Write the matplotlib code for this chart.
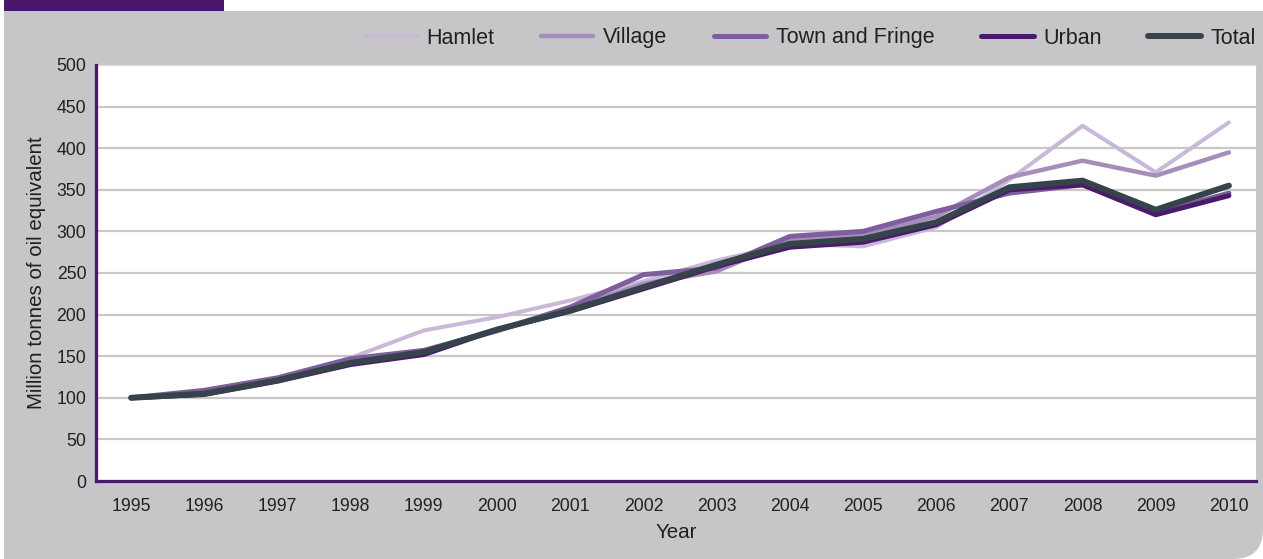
import matplotlib.pyplot as plt
from matplotlib.path import Path
from matplotlib.patches import PathPatch, Rectangle

years = ['1995', '1996', '1997', '1998', '1999', '2000', '2001', '2002',
         '2003', '2004', '2005', '2006', '2007', '2008', '2009', '2010']
hamlet = [100, 107, 123, 148, 181, 197, 217, 240, 265, 285, 282, 305, 362, 427, 371, 431]
village = [100, 108, 123, 146, 156, 180, 208, 237, 252, 290, 295, 318, 365, 385, 367, 395]
town = [100, 109, 124, 147, 157, 181, 209, 248, 256, 294, 300, 324, 346, 356, 322, 346]
urban = [100, 104, 120, 140, 152, 182, 204, 231, 258, 281, 287, 308, 350, 356, 320, 343]
total = [100, 105, 121, 142, 155, 182, 205, 233, 260, 285, 291, 311, 353, 361, 326, 355]

series = [
    ('Hamlet', hamlet, '#c9b9d8', 2.9),
    ('Village', village, '#a68eba', 3.2),
    ('Town and Fringe', town, '#7e5e9c', 3.6),
    ('Urban', urban, '#4a1a6b', 3.6),
    ('Total', total, '#36434b', 4.3),
]

plt.rcParams['font.family'] = ['Liberation Sans', 'DejaVu Sans']
W, H = 1263, 559
fig = plt.figure(figsize=(W / 100, H / 100), dpi=100)
fig.patch.set_facecolor('white')


def fx(px):
    return px / W


def fy(py):
    return 1 - py / H


# grey panel with a rounded bottom-right corner
r = 30
verts = [(fx(4), fy(11)), (fx(W), fy(11)), (fx(W), fy(H - r)),
         (fx(W), fy(H)), (fx(W - r), fy(H)), (fx(4), fy(H)), (fx(4), fy(11))]
codes = [Path.MOVETO, Path.LINETO, Path.LINETO, Path.CURVE3, Path.CURVE3,
         Path.LINETO, Path.CLOSEPOLY]
fig.patches.append(PathPatch(Path(verts, codes), transform=fig.transFigure,
                             facecolor='#c6c6c8', edgecolor='none', zorder=-2))
# purple tab
fig.patches.append(Rectangle((fx(4), fy(11)), fx(224) - fx(4), fy(0) - fy(11),
                             transform=fig.transFigure, facecolor='#4a186b',
                             edgecolor='none', zorder=-2))

ax = fig.add_axes([fx(96), fy(481), fx(1256) - fx(96), fy(65) - fy(481)])
ax.set_facecolor('white')

x = list(range(len(years)))
for name, vals, color, lw in series:
    ax.plot(x, vals, color=color, lw=lw, label=name,
            solid_capstyle='round', solid_joinstyle='round', zorder=3)

ax.set_xlim(-0.48, 15.37)
ax.set_ylim(0, 500)
ax.set_xticks(x)
ax.set_xticklabels(years)
ax.set_yticks(range(0, 501, 50))
ax.grid(axis='y', color='#c8c8c8', lw=1.6, zorder=1)
ax.tick_params(length=0, labelsize=12.7, colors='#231f20')
ax.tick_params(axis='x', pad=12)
ax.tick_params(axis='y', pad=7)

for side in ('left', 'bottom'):
    ax.spines[side].set_color('#4a186b')
    ax.spines[side].set_linewidth(2.3)
    ax.spines[side].set_zorder(4)
ax.spines['right'].set_visible(False)
ax.spines['top'].set_color('#e4dcee')
ax.spines['top'].set_linewidth(0.8)

ax.set_ylabel('Million tonnes of oil equivalent', fontsize=14.8, color='#231f20')
ax.yaxis.set_label_coords(-0.051, 0.5)
ax.yaxis.label.set_va('center')
ax.set_xlabel('Year', fontsize=14.8, color='#231f20')
ax.xaxis.set_label_coords(0.5, (481 - 532) / 416)
ax.xaxis.label.set_va('center')

leg = fig.legend(loc='center right', bbox_to_anchor=(fx(1256), fy(38)),
                 bbox_transform=fig.transFigure, ncol=5, frameon=False,
                 fontsize=15.5, handlelength=2.45, handletextpad=0.45,
                 columnspacing=2.15, borderaxespad=0, borderpad=0)
for t in leg.get_texts():
    t.set_color('#231f20')

fig.savefig('out.png', dpi=100)
